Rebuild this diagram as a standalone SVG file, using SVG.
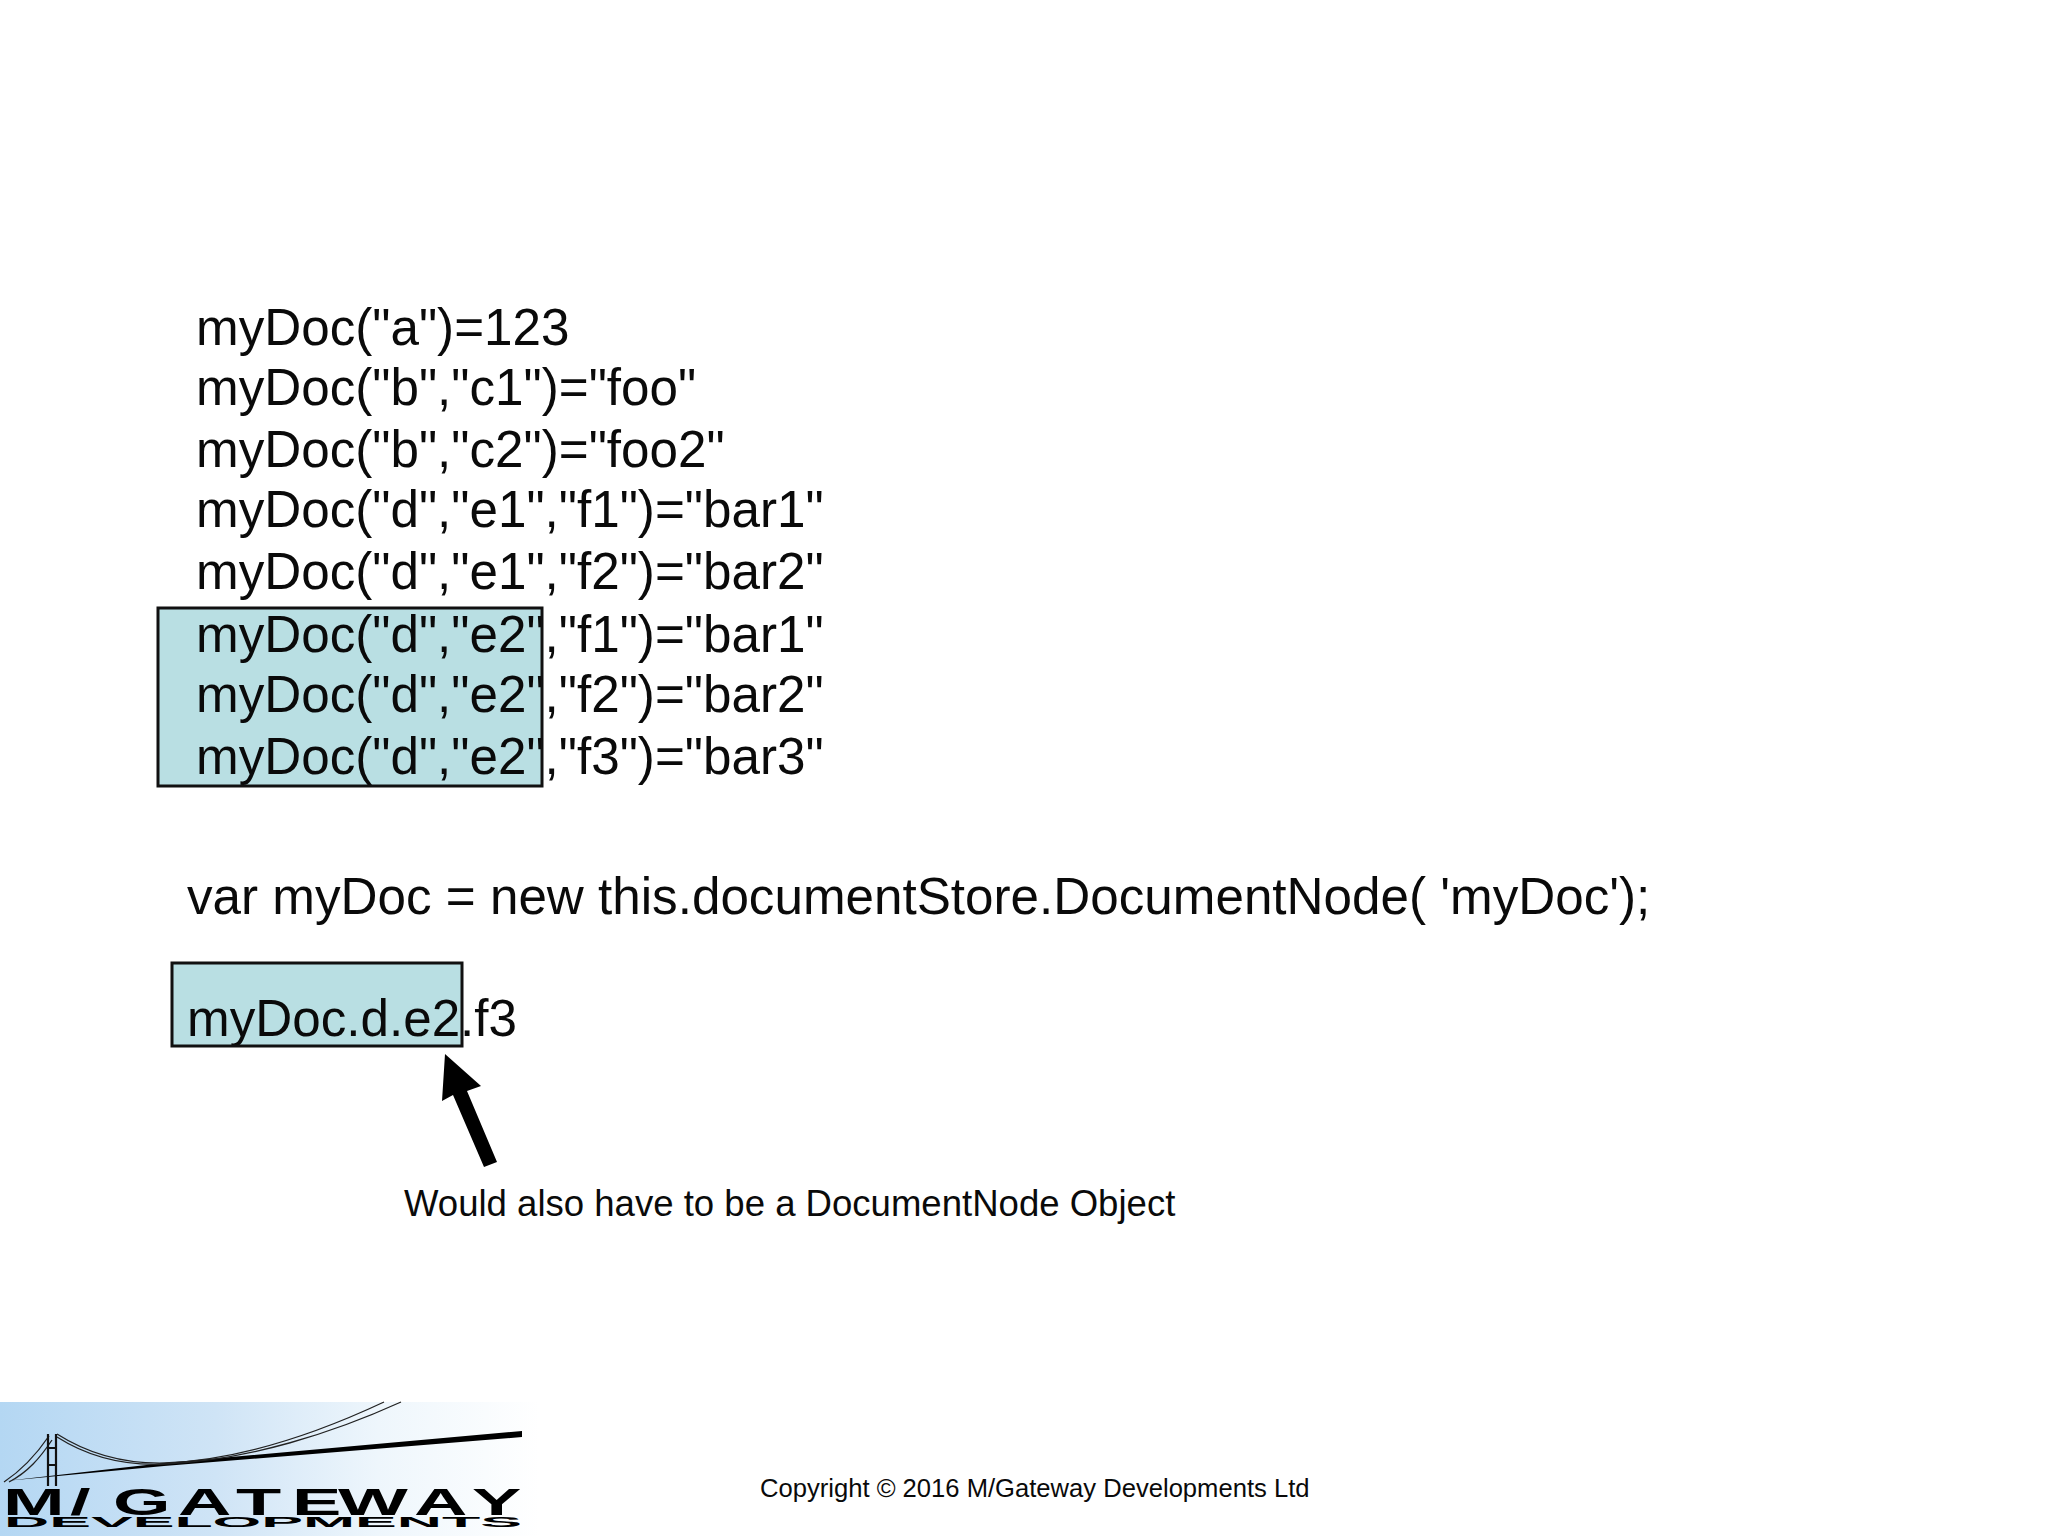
<svg xmlns="http://www.w3.org/2000/svg" width="2048" height="1536" viewBox="0 0 2048 1536">
<defs>
<linearGradient id="sky" x1="0" y1="0" x2="1" y2="0"><stop offset="0" stop-color="#b4d7f3"/><stop offset="0.4" stop-color="#cfe4f6"/><stop offset="0.7" stop-color="#eef6fc"/><stop offset="1" stop-color="#ffffff"/></linearGradient>
<style>
.t{font-family:"Liberation Sans",Arial,sans-serif;fill:#0a0a0a}
.code{font-size:51.2px}
.fill{fill:#b9dfe3}
.edge{fill:none;stroke:#111;stroke-width:3}
.cable{fill:none;stroke:#222;stroke-width:1.3}
.tower{fill:none;stroke:#111;stroke-width:2.2}
</style>
</defs>
<rect width="2048" height="1536" fill="#fff"/>
<g id="highlight-lines-fill"><rect class="fill" x="158" y="608" width="384" height="178"/></g>
<g id="highlight-expr-fill"><rect class="fill" x="172" y="963" width="290" height="83"/></g>
<g id="code-lines" class="t code">
<text x="196" y="345">myDoc("a")=123</text>
<text x="196" y="405">myDoc("b","c1")="foo"</text>
<text x="196" y="467">myDoc("b","c2")="foo2"</text>
<text x="196" y="527">myDoc("d","e1","f1")="bar1"</text>
<text x="196" y="589">myDoc("d","e1","f2")="bar2"</text>
<text x="196" y="652">myDoc("d","e2","f1")="bar1"</text>
<text x="196" y="712">myDoc("d","e2","f2")="bar2"</text>
<text x="196" y="774">myDoc("d","e2","f3")="bar3"</text>
</g>
<g id="statement" class="t code">
<text x="187" y="914">var myDoc = new this.documentStore.DocumentNode( 'myDoc');</text>
<text x="187" y="1036">myDoc.d.e2.f3</text>
</g>
<g id="highlight-edges">
<rect class="edge" x="158" y="608" width="384" height="178"/>
<rect class="edge" x="172" y="963" width="290" height="83"/>
</g>
<g id="connectors"><polygon fill="#000" points="445,1054 481,1086 467,1091 497,1162 484,1167 453,1095 442,1101"/></g>
<g id="note" class="t"><text x="404" y="1216" font-size="36.56">Would also have to be a DocumentNode Object</text></g>
<g id="copyright" class="t"><text x="760" y="1497" font-size="25.6">Copyright © 2016 M/Gateway Developments Ltd</text></g>
<g id="logo">
<rect x="0" y="1402" width="540" height="134" fill="url(#sky)"/>
<polygon fill="#000" points="5,1481 164,1463 522,1431 522,1437 164,1466"/>
<path class="cable" d="M57,1434C90,1455 125,1464 165,1463C240,1460 320,1432 384,1402"/>
<path class="cable" d="M57,1437C90,1458 125,1466 165,1464C250,1460 335,1432 401,1402"/>
<path class="cable" d="M49,1436C36,1455 22,1470 4,1482M52,1440C40,1458 28,1472 9,1482"/>
<path class="tower" d="M48,1434V1486M56,1434V1486M48,1448H56M48,1465H56"/>
<text transform="scale(2 1)" x="1.5 35 56.5 89 118 146 169 207 236" y="1515" font-family="Liberation Sans,Arial,sans-serif" font-weight="700" font-size="37" fill="#000">M/GATEWAY</text>
<text x="4" y="1527" font-family="Liberation Sans,Arial,sans-serif" font-weight="700" font-size="14" textLength="518" lengthAdjust="spacingAndGlyphs" fill="#000">DEVELOPMENTS</text>
</g>
</svg>
